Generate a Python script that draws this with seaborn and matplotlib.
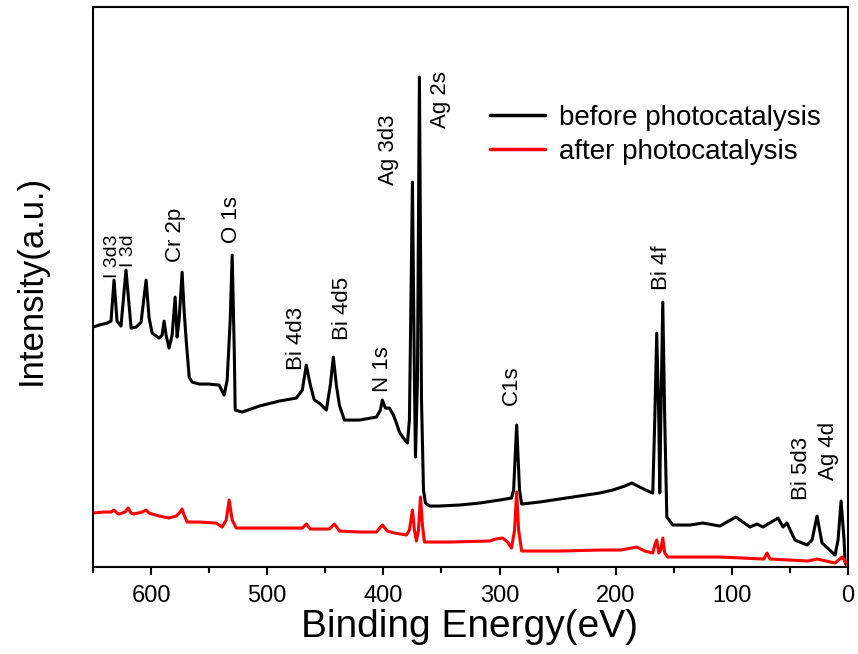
import matplotlib
matplotlib.use("Agg")
import matplotlib.pyplot as plt
from matplotlib.ticker import MultipleLocator
import pandas as pd
import seaborn as sns

# ---- data (binding energy in eV, intensity in a.u.) ----
before_energy = [650, 644.8, 637.9, 634.5, 631.9, 629.3, 625.9, 621.6, 617.2, 612.9, 608.6, 604.3,
                 601.7, 599.1, 593.1, 590.5, 588.8, 587.1, 584.5, 581.9, 579.3, 577.6, 575.9, 573.3,
                 571.6, 569.8, 567.2, 564.7, 558.6, 550.0, 541.4, 537.1, 534.5, 531.9, 530.2, 528.4,
                 527.6, 521.6, 506.9, 489.7, 475.0, 469.8, 466.4, 462.9, 459.5, 455.2, 449.1, 445.7,
                 443.1, 440.5, 437.9, 433.6, 420.7, 406.0, 402.6, 400.9, 398.3, 394.8, 391.4, 388.8,
                 386.2, 382.8, 379.3, 377.6, 375.0, 373.3, 372.4, 370.7, 369.0, 367.2, 365.5, 363.8,
                 360.3, 351.7, 334.5, 317.2, 300.0, 289.7, 287.9, 285.3, 282.8, 281.0, 265.5, 237.1,
                 213.8, 202.6, 192.2, 186.2, 179.3, 172.4, 168.1, 166.4, 164.7, 162.9, 162.1, 161.2,
                 159.5, 157.8, 156.0, 150.9, 136.2, 125.0, 110.3, 96.6, 84.5, 78.4, 73.3, 60.3,
                 56.0, 52.6, 45.7, 35.3, 31.0, 26.7, 22.4, 11.2, 8.6, 6.0, 3.4, 2.6, 0.9]
before_intensity = [240, 242, 244, 246, 287, 246, 241, 297, 239, 240, 245, 287,
                    249, 234, 229, 232, 246, 232, 219, 232, 270, 230, 247, 295,
                    257, 227, 190, 185, 183, 183, 182, 172, 187, 247, 312, 217,
                    157, 155, 161, 166, 169, 177, 202, 182, 167, 164, 157, 182,
                    210, 182, 162, 147, 147, 150, 157, 167, 159, 159, 152, 144,
                    135, 129, 124, 147, 385, 187, 110, 187, 490, 167, 77, 64,
                    61, 61, 62, 64, 67, 69, 77, 142, 77, 63, 65, 70,
                    74, 77, 81, 84, 80, 76, 74, 147, 234, 147, 74, 147,
                    265, 147, 50, 42, 42, 44, 41, 50, 40, 43, 40, 49,
                    40, 44, 27, 22, 27, 51, 24, 12, 27, 66, 27, 5, 0]

after_energy = [650, 640.5, 634.5, 631.9, 629.3, 627.6, 622.4, 619.8, 617.2, 614.7, 607.8, 604.3,
                601.7, 599.1, 593.1, 584.5, 578.4, 575.0, 573.3, 571.6, 569.0, 558.6, 544.0, 538.8,
                535.3, 532.8, 530.2, 526.7, 498.3, 469.8, 466.4, 462.9, 446.6, 442.2, 437.9, 420.7,
                406.0, 400.9, 396.6, 390.5, 380.2, 377.6, 375.0, 373.3, 371.6, 369.8, 368.1, 366.4,
                364.7, 343.1, 308.6, 303.4, 297.4, 293.1, 289.7, 287.1, 285.3, 283.6, 281.0, 248.3,
                213.8, 195.7, 181.9, 175.0, 168.1, 166.4, 164.7, 162.9, 161.2, 159.5, 157.8, 155.2,
                110.3, 72.4, 69.8, 67.2, 34.5, 26.7, 11.2, 5.2, 2.6, 0]
after_intensity = [54, 55, 55, 57, 54, 53, 55, 59, 54, 53, 55, 57,
                   54, 53, 51, 49, 51, 55, 58, 52, 45, 45, 44, 40,
                   47, 67, 47, 39, 39, 39, 43, 38, 38, 43, 36, 35,
                   35, 42, 36, 34, 32, 37, 57, 37, 26, 37, 70, 42,
                   25, 25, 26, 28, 29, 25, 19, 37, 75, 37, 16, 16,
                   17, 17, 20, 16, 14, 22, 27, 14, 17, 29, 14, 10,
                   10, 8, 14, 8, 6, 8, 4, 10, 6, 1]

series_names = ["before photocatalysis", "after photocatalysis"]
series_colors = ["black", "red"]

peak_labels = ["I 3d3", "I 3d", "Cr 2p", "O 1s", "Bi 4d3", "Bi 4d5", "N 1s",
               "Ag 3d3", "Ag 2s", "C1s", "Bi 4f", "Bi 5d3", "Ag 4d"]
peak_label_energy = [633.6, 619.8, 579.3, 531.0, 475.0, 435.3, 400.9,
                     395.7, 350.9, 289.7, 160.3, 40.5, 17.2]
peak_label_intensity = [289, 300, 305, 324, 197, 227, 175,
                        382, 439, 162, 277, 67, 87]

x_major_ticks = [0, 100, 200, 300, 400, 500, 600]

# ---- build table ----
df = pd.concat([
    pd.DataFrame({"energy": before_energy, "intensity": before_intensity, "sample": series_names[0]}),
    pd.DataFrame({"energy": after_energy, "intensity": after_intensity, "sample": series_names[1]}),
], ignore_index=True)

sns.set_theme(style="ticks")
plt.rcParams['font.family'] = ['Liberation Sans', 'DejaVu Sans']
plt.rcParams['text.color'] = 'black'
plt.rcParams['axes.labelcolor'] = 'black'
plt.rcParams['xtick.color'] = 'black'
plt.rcParams['ytick.color'] = 'black'

fig = plt.figure(figsize=(8.58, 6.54), dpi=100)
ax = fig.add_axes([0.1084, 0.133, 0.88, 0.856])

sns.lineplot(data=df, x="energy", y="intensity", hue="sample", hue_order=series_names,
             palette=series_colors, sort=False, estimator=None, linewidth=2.2, ax=ax)

ax.set_xlim(650, 0)
ax.set_ylim(0, 560)
ax.set_xticks(x_major_ticks)
ax.xaxis.set_minor_locator(MultipleLocator(50))
ax.set_yticks([])
ax.tick_params(axis="x", which="major", direction="out", length=6, width=1.5,
               labelsize=17, pad=7, colors="black")
ax.tick_params(axis="x", which="minor", direction="out", length=4, width=1.5)
for sp in ax.spines.values():
    sp.set_linewidth(1.5)
    sp.set_color("black")

ax.set_xlabel("Binding Energy(eV)", fontsize=28)
ax.xaxis.set_label_coords(0.498, -0.075)
ax.set_ylabel("Intensity(a.u.)", fontsize=25)
ax.yaxis.set_label_coords(-0.06, 0.5125)

for lab, e, i in zip(peak_labels, peak_label_energy, peak_label_intensity):
    fs = 14 if lab.startswith("I ") else 16
    ax.text(e, i, lab, rotation=90, ha="center", va="bottom", fontsize=fs, color="black")

leg = ax.legend(loc="upper left", bbox_to_anchor=(0.511, 0.846), frameon=False,
                fontsize=20, handlelength=2.0, handletextpad=0.47, labelspacing=0.3,
                borderaxespad=0.0)
for line in leg.get_lines():
    line.set_linewidth(2.5)

fig.savefig("out.png", dpi=100)
